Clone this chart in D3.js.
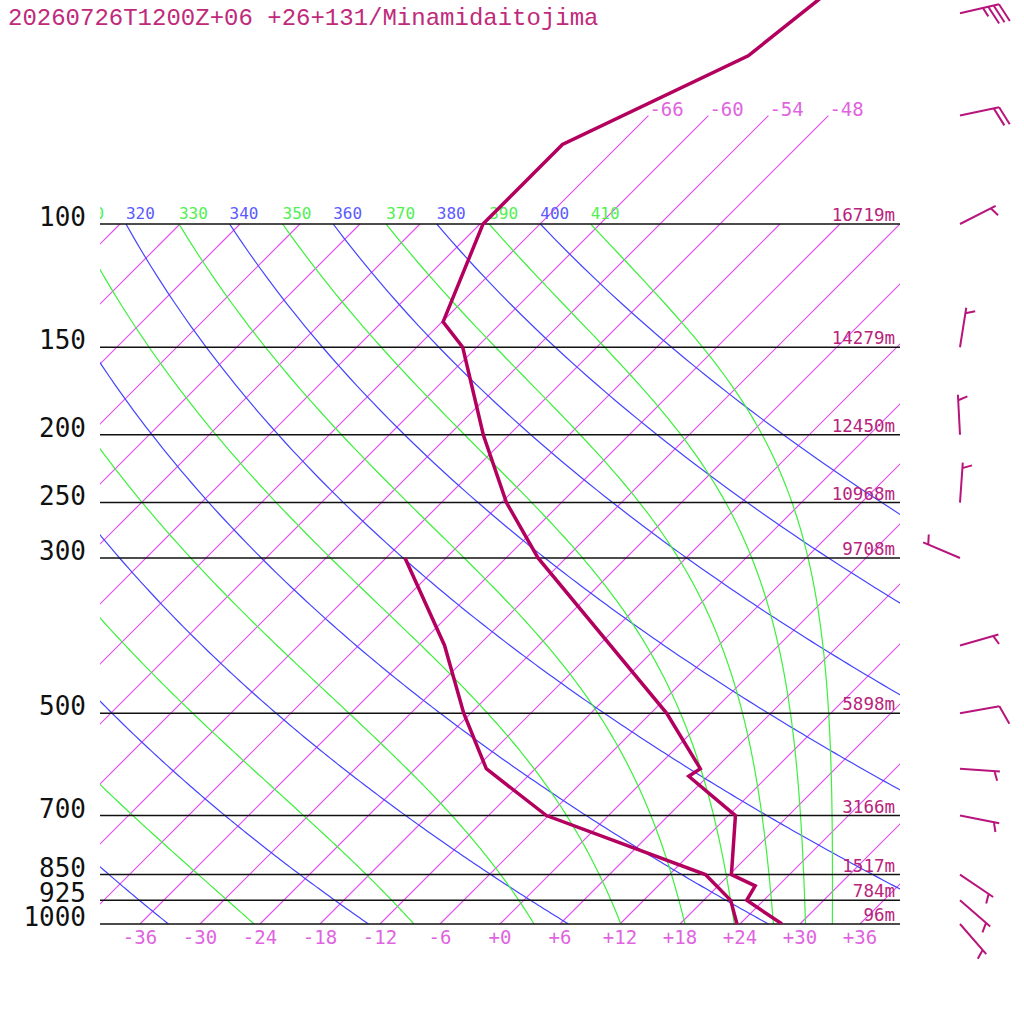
<!DOCTYPE html>
<html>
<head>
<meta charset="utf-8">
<script src="https://cdn.jsdelivr.net/npm/d3@7"></script>
<style>
  body { margin: 0; background: #fff; }
  svg { display: block; }
</style>
</head>
<body>
<svg id="chart" width="1024" height="1024"></svg>
<script>
// sounding data
var title = "20260726T1200Z+06 +26+131/Minamidaitojima"

var isobars = [1000, 925, 850, 700, 500, 300, 250, 200, 150, 100]
var heights = ["96m", "784m", "1517m", "3166m", "5898m", "9708m", "10968m", "12450m", "14279m", "16719m"]

var tempP = [1000, 925, 882, 850, 700, 615, 600, 500, 300, 250, 200, 150, 138, 100, 77, 57.5, 48, 40]
var tempC = [28.2, 22.3, 21.7, 18.2, 12.7, 4.1, 4.5, -4.4, -32.8, -41.5, -50.6, -61.4, -65.9, -71.7, -71.7, -62.0, -60.6, -59.3]

var dewP = [1000, 925, 850, 700, 600, 500, 400, 300]
var dewC = [23.7, 20.7, 15.6, -6.2, -16.9, -24.7, -33.4, -46.1]

var windP = [1000, 925, 850, 700, 600, 500, 400, 300, 250, 200, 150, 100, 70, 50]
var windDir = [139, 131, 124, 101, 94, 80, 74, 293, 4, 357, 9, 63, 78, 77]
var windSpd = [5, 5, 5, 5, 5, 10, 5, 5, 5, 5, 5, 5, 20, 35]

var isoTicks = [-36, -30, -24, -18, -12, -6, 0, 6, 12, 18, 24, 30, 36]
var isoTopLabels = [-66, -60, -54, -48]
var dryThetas = [240, 260, 280, 300, 320, 340, 360, 380, 400]
var moistThetas = [250, 270, 290, 310, 330, 350, 370, 390, 410]

var svg = d3.select("#chart")
var plotL = 100, plotR = 900, plotT = 224, plotB = 924

var y = d3.scaleLog().domain([1000, 100]).range([plotB, plotT])
var xT = d3.scaleLinear().domain([-40, 40]).range([plotL, plotR])

// skewed x: isotherms lean 45 degrees
var sx = function(t, p) {
  return xT(t) + (y(1000) - y(p))
}

var defs = svg.append("defs")
defs.append("clipPath").attr("id", "plotClip")
  .append("rect").attr("x", plotL).attr("y", plotT).attr("width", plotR - plotL).attr("height", plotB - plotT)
defs.append("clipPath").attr("id", "upClip")
  .append("rect").attr("x", plotL).attr("y", 0).attr("width", plotR - plotL).attr("height", plotB)

var line = d3.line().x(function(d) { return sx(d.t, d.p) }).y(function(d) { return y(d.p) })

var pSteps = d3.range(1000, 99, -5)

// isotherms
var isoAll = d3.range(-108, 37, 6)
svg.append("g").attr("clip-path", "url(#upClip)")
  .selectAll("path").data(isoAll).enter().append("path")
  .attr("d", function(t) {
    var pTop = isoTopLabels.indexOf(t) >= 0 ? 70 : 100
    return line([{t: t, p: 1000}, {t: t, p: pTop}])
  })
  .attr("stroke", "#e24cf0").attr("stroke-width", 1.15).attr("fill", "none")

// dry adiabats
var dryT = function(theta, p) { return theta * Math.pow(p / 1000, 0.2857) - 273.15 }
svg.append("g").attr("clip-path", "url(#plotClip)")
  .selectAll("path").data(dryThetas).enter().append("path")
  .attr("d", function(th) {
    return line(pSteps.map(function(p) { return {t: dryT(th, p), p: p} }))
  })
  .attr("stroke", "#4444ff").attr("stroke-width", 1.2).attr("fill", "none")

// saturated pseudo-adiabats from theta-e (Bolton)
var thetaE = function(tc, p) {
  var tk = tc + 273.15
  var es = 6.112 * Math.exp(17.67 * tc / (tc + 243.5))
  var r = 0.622 * es / Math.max(p - es, 1)
  var rg = r * 1000
  return tk * Math.pow(1000 / p, 0.2854 * (1 - 0.28 * r)) *
    Math.exp((3.376 / tk - 0.00254) * rg * (1 + 0.81e-3 * rg))
}
var moistT = function(the, p) {
  var lo = -160, hi = 60
  for (var i = 0; i < 50; i++) {
    var mid = (lo + hi) / 2
    if (thetaE(mid, p) > the) hi = mid
    else lo = mid
  }
  return (lo + hi) / 2
}
svg.append("g").attr("clip-path", "url(#plotClip)")
  .selectAll("path").data(moistThetas).enter().append("path")
  .attr("d", function(th) {
    return line(pSteps.map(function(p) { return {t: moistT(th, p), p: p} }))
  })
  .attr("stroke", "#3cf03c").attr("stroke-width", 1.2).attr("fill", "none")

// isobars
svg.append("g").selectAll("line").data(isobars).enter().append("line")
  .attr("x1", plotL).attr("x2", plotR)
  .attr("y1", function(p) { return y(p) }).attr("y2", function(p) { return y(p) })
  .attr("stroke", "#111").attr("stroke-width", 1.5)

// pressure labels
svg.append("g").selectAll("text").data(isobars).enter().append("text")
  .attr("x", 86).attr("y", function(p) { return y(p) + 2 })
  .attr("text-anchor", "end")
  .attr("font-family", "DejaVu Sans Mono").attr("font-size", 26)
  .attr("fill", "#111")
  .text(function(p) { return p })

// height labels
svg.append("g").selectAll("text").data(isobars).enter().append("text")
  .attr("x", 895).attr("y", function(p) { return y(p) - 3 })
  .attr("text-anchor", "end")
  .attr("font-family", "DejaVu Sans Mono").attr("font-size", 17.5)
  .attr("fill", "#b8237c")
  .text(function(p, i) { return heights[i] })

// temperature labels at the base
svg.append("g").selectAll("text").data(isoTicks).enter().append("text")
  .attr("x", function(t) { return xT(t) }).attr("y", 944)
  .attr("text-anchor", "middle")
  .attr("font-family", "DejaVu Sans Mono").attr("font-size", 19)
  .attr("fill", "#e064e0")
  .text(function(t) { return (t >= 0 ? "+" : "-") + Math.abs(t) })

// isotherm labels at the top
svg.append("g").selectAll("text").data(isoTopLabels).enter().append("text")
  .attr("x", function(t) { return sx(t, 70) + 1 }).attr("y", y(70))
  .attr("font-family", "DejaVu Sans Mono").attr("font-size", 19)
  .attr("fill", "#e064e0")
  .text(function(t) { return "-" + Math.abs(t) })

// adiabat labels at 100 hPa
var thLabels = dryThetas.map(function(th) { return {th: th, t: dryT(th, 100), c: "#5a5aff"} })
  .concat(moistThetas.map(function(th) { return {th: th, t: moistT(th, 100), c: "#50f050"} }))
svg.append("g").attr("clip-path", "url(#upClip)")
  .selectAll("text").data(thLabels).enter().append("text")
  .attr("x", function(d) { return sx(d.t, 100) }).attr("y", 219)
  .attr("font-family", "DejaVu Sans Mono").attr("font-size", 16)
  .attr("fill", function(d) { return d.c })
  .text(function(d) { return d.th })

// profiles
var prof = svg.append("g").attr("clip-path", "url(#upClip)")
prof.append("path")
  .attr("d", line(dewP.map(function(p, i) { return {p: p, t: dewC[i]} })))
  .attr("stroke", "#b3005f").attr("stroke-width", 3.5).attr("fill", "none")
  .attr("stroke-linejoin", "miter")
prof.append("path")
  .attr("d", line(tempP.map(function(p, i) { return {p: p, t: tempC[i]} })))
  .attr("stroke", "#b3005f").attr("stroke-width", 3.5).attr("fill", "none")
  .attr("stroke-linejoin", "miter")

// wind barbs
var barbG = svg.append("g")
var staff = 40, full = 20, half = 10, gap = 5.5, tilt = 70 * Math.PI / 180
windP.forEach(function(p, i) {
  var a = windDir[i] * Math.PI / 180
  var ux = Math.sin(a), uy = -Math.cos(a)
  var bx = ux * Math.cos(tilt) - uy * Math.sin(tilt)
  var by = ux * Math.sin(tilt) + uy * Math.cos(tilt)
  var x0 = 960, y0 = y(p)
  var path = d3.path()
  path.moveTo(x0, y0)
  path.lineTo(x0 + ux * staff, y0 + uy * staff)
  var spd = Math.round(windSpd[i] / 5) * 5
  var nFull = Math.floor(spd / 10), nHalf = (spd % 10) >= 5 ? 1 : 0
  var pos = staff
  if (nFull === 0 && nHalf) pos -= gap
  for (var k = 0; k < nFull; k++) {
    var px = x0 + ux * pos, py = y0 + uy * pos
    path.moveTo(px, py)
    path.lineTo(px + bx * full, py + by * full)
    pos -= gap
  }
  if (nHalf) {
    var hx = x0 + ux * pos, hy = y0 + uy * pos
    path.moveTo(hx, hy)
    path.lineTo(hx + bx * half, hy + by * half)
  }
  barbG.append("path").attr("d", path.toString())
    .attr("stroke", "#b8157c").attr("stroke-width", 2).attr("fill", "none")
})

// title
svg.append("text")
  .attr("x", 8).attr("y", 25)
  .attr("font-family", "Liberation Mono").attr("font-size", 24)
  .attr("fill", "#c02a7a")
  .text(title)
</script>
</body>
</html>
